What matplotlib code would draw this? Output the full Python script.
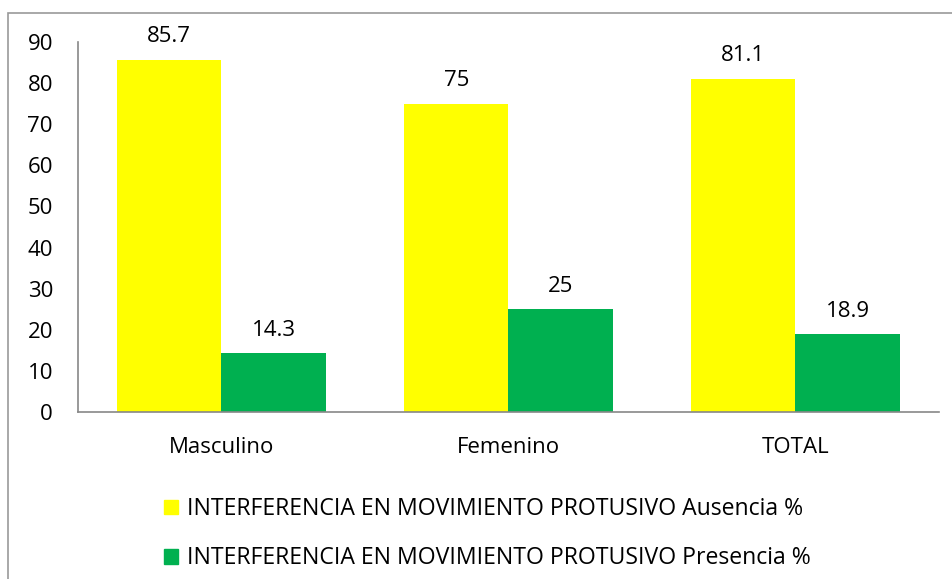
import matplotlib
matplotlib.use("Agg")
import matplotlib.pyplot as plt
import numpy as np
from matplotlib.patches import Rectangle, Patch

categories = ["Masculino", "Femenino", "TOTAL"]
ausencia = [85.7, 75, 81.1]
presencia = [14.3, 25, 18.9]
series_labels = ["INTERFERENCIA EN MOVIMIENTO PROTUSIVO Ausencia %",
                 "INTERFERENCIA EN MOVIMIENTO PROTUSIVO Presencia %"]
yticks = [0, 10, 20, 30, 40, 50, 60, 70, 80, 90]

plt.rcParams['font.family'] = ['Open Sans', 'DejaVu Sans']
FS = 16
W, H = 953, 579
fig = plt.figure(figsize=(W/100, H/100), dpi=100)

# outer frame
fig.patches.append(Rectangle((8/W, 0 - 0.01), 1.1, 1 - 13/H + 0.01, transform=fig.transFigure,
                             fill=False, edgecolor='#999999', linewidth=1.2))

ax_l, ax_r, ax_t, ax_b = 78, 939, 42, 412
ax = fig.add_axes([ax_l/W, 1 - ax_b/H, (ax_r-ax_l)/W, (ax_b-ax_t)/H])

x = np.arange(len(categories))
bw = 0.364
yellow = '#FFFF00'
green = '#00B050'
b1 = ax.bar(x - bw/2, ausencia, bw, color=yellow)
b2 = ax.bar(x + bw/2, presencia, bw, color=green)
for bars, vals in ((b1, ausencia), (b2, presencia)):
    for r, v in zip(bars, vals):
        ax.annotate(f"{v:g}", (r.get_x() + r.get_width()/2, v), xytext=(0, 9),
                    textcoords='offset points', ha='center', va='bottom', fontsize=FS)

ax.set_xlim(-0.5, 2.5)
ax.set_ylim(0, 90)
ax.set_yticks(yticks)
ax.set_xticks(x)
ax.set_xticklabels(categories)
ax.tick_params(axis='both', length=0, labelsize=FS)
ax.tick_params(axis='x', pad=18)
ax.tick_params(axis='y', pad=18)
for s in ('top', 'right'):
    ax.spines[s].set_visible(False)
for s in ('left', 'bottom'):
    ax.spines[s].set_color('#888888')
    ax.spines[s].set_linewidth(1.2)

handles = [Patch(color=yellow), Patch(color=green)]
fig.legend(handles, series_labels, loc='upper left', bbox_to_anchor=(164/W, 1 - 497/H),
           frameon=False, fontsize=16.6, handlelength=0.6, handleheight=0.6,
           handletextpad=0.4, labelspacing=1.1, borderaxespad=0, borderpad=0)

fig.savefig("out.png", dpi=100)
